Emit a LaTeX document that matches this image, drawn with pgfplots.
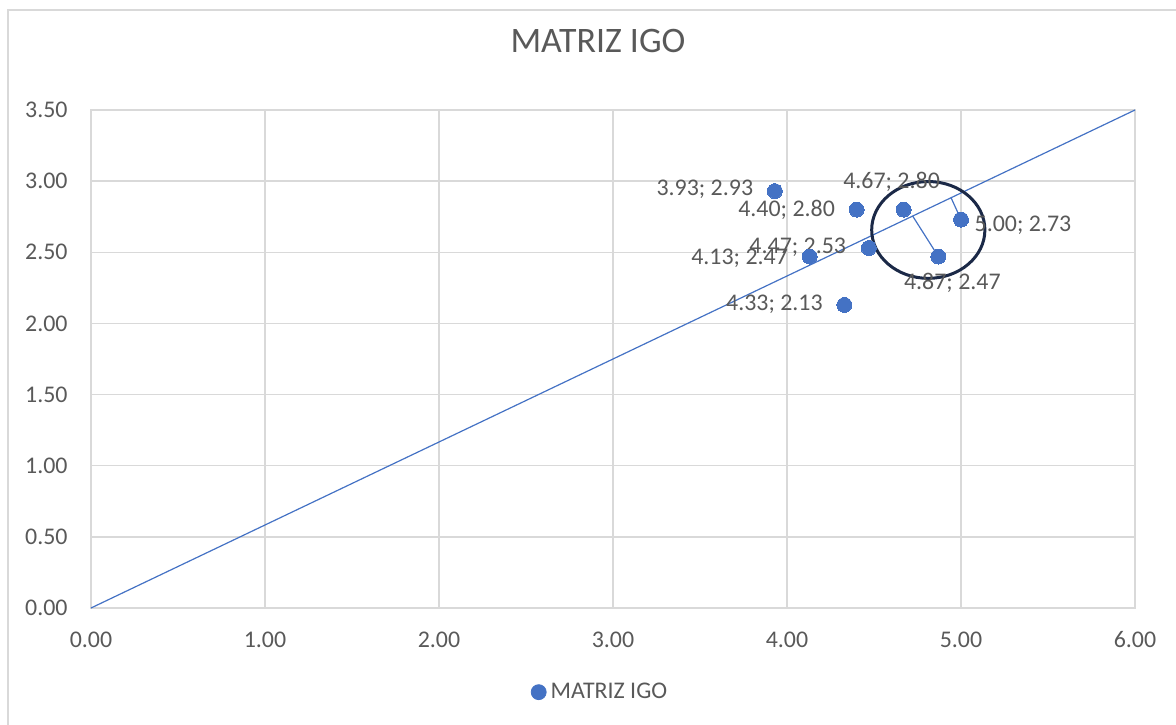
\documentclass[border=0pt]{standalone}
\usepackage{pgfplots}
\pgfplotsset{compat=1.18}
\usepackage{pgfplotstable}
\usepackage{fontspec}
\setmainfont{Carlito}
\definecolor{serblue}{HTML}{4472C4}
\definecolor{gridgray}{HTML}{D9D9D9}
\definecolor{txtgray}{HTML}{595959}
\definecolor{navy}{HTML}{1B2947}
\pgfplotstableread[col sep=comma]{
x,y,lbl,dx,dy
3.93,2.93,{3.93; 2.93},-35,1
4.40,2.80,{4.40; 2.80},-35,0
4.67,2.80,{4.67; 2.80},-6,14
5.00,2.73,{5.00; 2.73},31,-3
4.47,2.53,{4.47; 2.53},-35.5,0.5
4.13,2.47,{4.13; 2.47},-35,-1
4.87,2.47,{4.87; 2.47},7,-13
4.33,2.13,{4.33; 2.13},-35,0.5
}\igo
\begin{document}
\begin{tikzpicture}
\begin{axis}[
  scale only axis,
  width=522bp, height=249bp,
  xmin=0, xmax=6, ymin=0, ymax=3.5,
  xtick={0,1,...,6}, ytick={0,0.5,...,3.5},
  grid=major,
  grid style={draw=gridgray, line width=0.75bp},
  axis line style={draw=gridgray, line width=0.75bp},
  major tick length=0pt,
  tick label style={font=\fontsize{12}{14}\selectfont, text=txtgray, inner sep=0pt},
  /pgf/number format/assume math mode=true,
  /pgf/number format/.cd, fixed, fixed zerofill, precision=2, /pgfplots/.cd,
  yticklabel style={anchor=east, xshift=-11.5bp},
  xticklabel style={anchor=center, yshift=-16bp},
  title={MATRIZ IGO},
  title style={at={(0.4856,1.1145)}, anchor=center, font=\fontsize{18}{21}\selectfont, text=txtgray, inner sep=0pt},
  legend style={at={(0.4885,-0.169)}, anchor=center, draw=none, fill=none,
    font=\fontsize{12}{14}\selectfont, text=txtgray, inner sep=0pt},
  legend cell align=left,
  legend image code/.code={\fill[serblue] (0.12cm,0cm) circle (3.75bp);},
  clip=false,
]
\addplot[serblue, line width=0.6bp, forget plot] coordinates {(0,0) (6,3.5)};
\addplot[serblue, line width=0.6bp, forget plot] coordinates {(4.87,2.47) (4.722,2.755)};
\addplot[serblue, line width=0.6bp, forget plot] coordinates {(5.00,2.73) (4.943,2.883)};
\addplot[only marks, mark=*, mark size=3.75bp, mark options={fill=serblue, draw=serblue, line width=0pt},
  point meta=explicit symbolic,
  visualization depends on={\thisrow{dx}\as\dx},
  visualization depends on={\thisrow{dy}\as\dy},
  nodes near coords,
  every node near coord/.append style={anchor=center, inner sep=0pt, xshift=\dx bp, yshift=\dy bp,
    font=\fontsize{12}{14}\selectfont, text=txtgray},
] table[x=x, y=y, meta=lbl] {\igo};
\addlegendentry{MATRIZ IGO}
\draw[navy, line width=1.5bp] (axis cs:4.812,2.657) ellipse [x radius=28.3bp, y radius=24.2bp];
\end{axis}
\pgfresetboundingbox
\path[use as bounding box] (-45.5bp,-58.5bp) rectangle (542.5bp,304bp);
\draw[gridgray, line width=0.75bp] (-41.5bp,-60bp) -- (-41.5bp,299bp) -- (545bp,299bp);
\end{tikzpicture}
\end{document}
